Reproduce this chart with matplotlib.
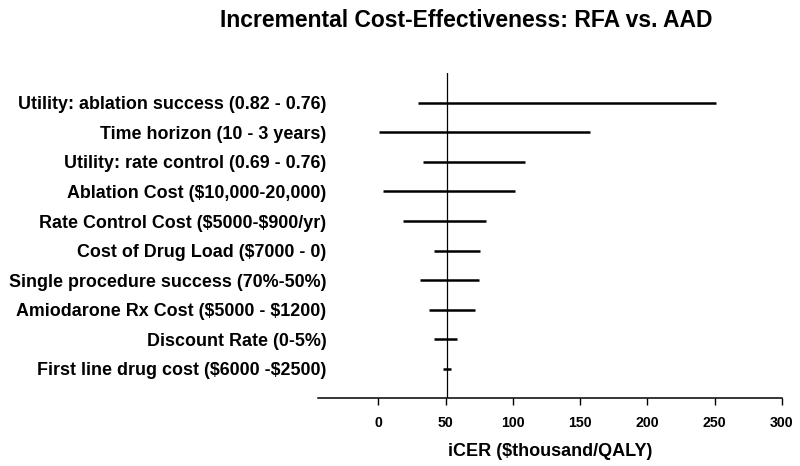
import matplotlib
matplotlib.use("Agg")
import matplotlib.pyplot as plt

categories = [
    "Utility: ablation success (0.82 - 0.76)",
    "Time horizon (10 - 3 years)",
    "Utility: rate control (0.69 - 0.76)",
    "Ablation Cost ($10,000-20,000)",
    "Rate Control Cost ($5000-$900/yr)",
    "Cost of Drug Load ($7000 - 0)",
    "Single procedure success (70%-50%)",
    "Amiodarone Rx Cost ($5000 - $1200)",
    "Discount Rate (0-5%)",
    "First line drug cost ($6000 -$2500)",
]
low_values = [29.7, 0.5, 33.4, 3.2, 18.3, 41.6, 31.2, 37.9, 41.6, 48.0]
high_values = [251.0, 157.4, 108.9, 101.5, 80.2, 75.3, 74.5, 72.0, 58.2, 54.2]
base_case = 51.2
x_ticks = [0, 50, 100, 150, 200, 250, 300]

plt.rcParams['font.family'] = ['Liberation Sans', 'DejaVu Sans']
plt.rcParams['text.parse_math'] = False

fig = plt.figure(figsize=(8, 4.66), dpi=100)
ax = fig.add_axes([0.398, 0.1453, 0.5795, 0.6974])

ypos = list(range(1, len(categories) + 1))
ax.hlines(ypos, low_values, high_values, color='black', linewidth=1.8)
ax.axvline(base_case, color='black', linewidth=0.9)

ax.set_xlim(-44.6, 300)
ax.set_ylim(len(categories) + 1, 0)
ax.set_yticks(ypos)
ax.set_yticklabels(categories, fontsize=12.9, fontweight='bold')
ax.tick_params(axis='y', length=0, pad=-5.8)
ax.set_xticks(x_ticks)
ax.set_xticklabels([str(t) for t in x_ticks], fontsize=10.2, fontweight='bold')
ax.tick_params(axis='x', length=5, width=1, pad=8)

for s in ['top', 'right', 'left']:
    ax.spines[s].set_visible(False)
ax.spines['bottom'].set_linewidth(1.1)

ax.set_xlabel("iCER ($thousand/QALY)", fontsize=13, fontweight='bold', labelpad=9)
fig.text(0.5825, 0.957, "Incremental Cost-Effectiveness: RFA vs. AAD",
         ha='center', va='center', fontsize=16.5, fontweight='bold')

fig.savefig("out.png", dpi=100)
